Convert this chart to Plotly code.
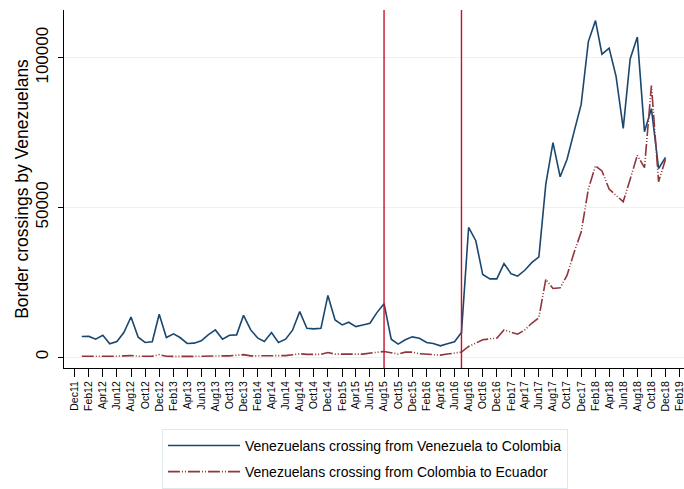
import pandas as pd
import plotly.graph_objects as go

months = pd.date_range("2012-01-01", periods=84, freq="MS").strftime("%Y-%m-%d").tolist()

ven_to_col = [
    6870, 6900, 5980, 7300, 4430, 5200, 8200, 13400, 6640, 4870, 5100, 14300,
    6530, 7750, 6530, 4540, 4650, 5430, 7420, 9080, 5980, 7300, 7420, 13950,
    9080, 6310, 5200, 8200, 4870, 5980, 8970, 15180, 9630, 9410, 9630, 20600,
    12400, 10740, 11630, 10190, 10740, 11300, 14850, 17830, 5980, 4320, 5760, 6750,
    6310, 4870, 4540, 3760, 4430, 5100, 8200, 43300, 38870, 27570, 26140, 26140,
    31230, 27800, 27020, 29010, 31560, 33450, 57800, 71650, 60240, 66100, 75500, 84400,
    105400, 112400, 101200, 103200, 93800, 76400, 99600, 106900, 75300, 83000, 63000, 66700,
]
col_to_ecu = [
    300, 250, 200, 200, 250, 300, 400, 500, 300, 250, 300, 800,
    300, 250, 200, 200, 250, 300, 400, 500, 400, 400, 500, 800,
    400, 400, 350, 350, 400, 500, 800, 1100, 900, 800, 900, 1500,
    1000, 1000, 900, 1000, 1000, 1200, 1600, 1880, 1330, 1000, 1660, 1660,
    1110, 1000, 775, 660, 1000, 1220, 1660, 3540, 4650, 5760, 6090, 6310,
    9080, 8300, 7640, 9080, 11300, 13170, 26030, 22900, 23140, 27350, 35100, 41750,
    56100, 63900, 62200, 56100, 53900, 51900, 59400, 67400, 63300, 90700, 58600, 66100,
]
event_dates = ["2015-08-01", "2016-07-01"]
y_ticks = [0, 50000, 100000]
y_tick_labels = ["0", "50000", "100000"]

fig = go.Figure()
fig.add_trace(go.Scatter(
    x=months, y=ven_to_col, mode="lines",
    name="Venezuelans crossing from Venezuela to Colombia",
    line=dict(color="#1a476f", width=1.6), legendgroup="a",
))
fig.add_trace(go.Scatter(
    x=months, y=col_to_ecu, mode="lines",
    name="Venezuelans crossing from Colombia to Ecuador",
    line=dict(color="#90353b", width=1.6, dash="12px,2px,1px,2px,1px,2px"),
    legendgroup="b",
))
for d in event_dates:
    fig.add_vline(x=d, line=dict(color="#c8102e", width=1.4))

fig.update_layout(
    width=684, height=489,
    margin=dict(l=64, r=0, t=10, b=119),
    paper_bgcolor="white", plot_bgcolor="white",
    font=dict(family="Liberation Sans, Arial, sans-serif", color="black"),
    showlegend=True,
    legend=dict(
        x=0.158, y=-0.17, xanchor="left", yanchor="top",
        bordercolor="#dfe8ea", borderwidth=1,
        font=dict(size=14), itemwidth=72,
        traceorder="grouped", tracegroupgap=5,
    ),
)
fig.update_xaxes(
    type="date", range=["2011-10-16", "2019-02-19"],
    tick0="2011-12-01", dtick="M2", tickformat="%b%y", tickangle=-90,
    ticks="outside", ticklen=8, tickcolor="black", tickfont=dict(size=10.5),
    ticklabeloverflow="allow",
    showline=True, linecolor="black", linewidth=1,
    showgrid=False, zeroline=False, automargin=False,
)
fig.update_yaxes(
    range=[-3650, 115950], tickvals=y_ticks, ticktext=y_tick_labels, tickangle=-90,
    ticks="outside", ticklen=5, tickcolor="black", tickfont=dict(size=17),
    ticklabelstandoff=3,
    showline=True, linecolor="black", linewidth=1,
    showgrid=True, gridcolor="#eaf2f3", gridwidth=1.2, zeroline=False,
    automargin=False,
    title=dict(text="Border crossings by Venezuelans", font=dict(size=17.5), standoff=0),
)
fig.write_html(
    "out.html",
    config={"displayModeBar": False},
    post_script="document.body.style.margin='0';document.body.style.overflow='hidden';",
)
